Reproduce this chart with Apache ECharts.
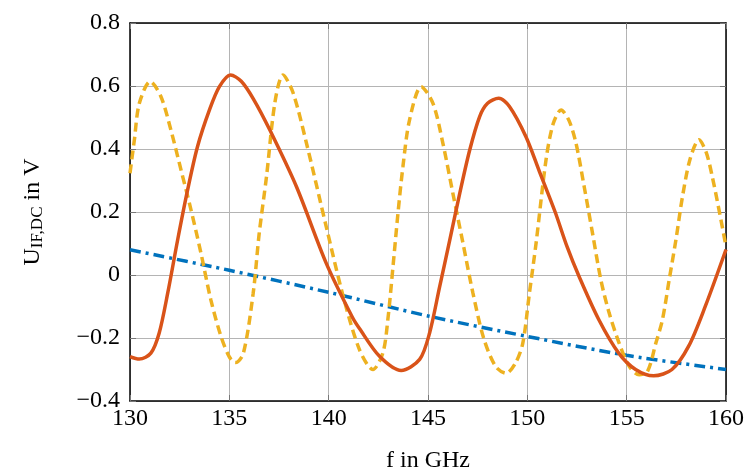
<!DOCTYPE html>
<html>
<head>
<meta charset="utf-8">
<script src="https://cdn.jsdelivr.net/npm/echarts@6/dist/echarts.min.js"></script>
<style>
  html, body { margin: 0; padding: 0; background: #fff; }
  #chart { width: 752px; height: 473px; }
</style>
</head>
<body>
<div id="chart"></div>
<script>
// [f in GHz, U in V]
const solidCurve = [
  [130, -0.259], [130.47, -0.267], [131.05, -0.248], [131.47, -0.184], [131.9, -0.057],
  [132.4, 0.112], [132.9, 0.27], [133.4, 0.408], [134.0, 0.524], [134.5, 0.598],
  [135.06, 0.635], [135.6, 0.615], [136.2, 0.56], [137.04, 0.46], [138.38, 0.28],
  [139.88, 0.037], [141.2, -0.135], [141.55, -0.17], [142.56, -0.258], [143.65, -0.303],
  [144.58, -0.268], [145.08, -0.184], [145.59, -0.036], [146.1, 0.112], [146.6, 0.26],
  [147.1, 0.397], [147.6, 0.503], [148.0, 0.545], [148.56, 0.561], [149.1, 0.535],
  [149.93, 0.439], [150.6, 0.33], [151.4, 0.2], [152.0, 0.09], [152.6, -0.004],
  [153.6, -0.142], [154.6, -0.248], [155.45, -0.3], [156.36, -0.32], [157.28, -0.3],
  [158.12, -0.226], [158.96, -0.099], [160, 0.081]
];
const dashedCurve = [
  [130, 0.323], [130.22, 0.429], [130.47, 0.545], [131.02, 0.614], [131.56, 0.566],
  [132.06, 0.46], [132.57, 0.333], [133.07, 0.207], [133.57, 0.07], [134.07, -0.079],
  [134.58, -0.195], [135.0, -0.26], [135.3, -0.278], [135.7, -0.25], [136.2, -0.058],
  [136.5, 0.13], [136.87, 0.312], [137.3, 0.55], [137.7, 0.635], [138.2, 0.58],
  [138.88, 0.419], [139.88, 0.153], [140.7, -0.06], [141.55, -0.237], [142.23, -0.3],
  [142.73, -0.247], [142.98, -0.141], [143.24, 0.028], [143.49, 0.197], [143.74, 0.345],
  [144.07, 0.492], [144.66, 0.598], [145.25, 0.545], [145.75, 0.418], [146.25, 0.26],
  [146.76, 0.101], [147.26, -0.057], [147.8, -0.2], [148.4, -0.29], [148.93, -0.312],
  [149.4, -0.28], [149.77, -0.217], [150.1, -0.06], [150.44, 0.101], [150.94, 0.365],
  [151.3, 0.48], [151.7, 0.524], [152.1, 0.49], [152.45, 0.418], [152.86, 0.281],
  [153.28, 0.133], [153.7, -0.015], [154.12, -0.121], [154.62, -0.216], [155.13, -0.29],
  [155.63, -0.317], [156.05, -0.306], [156.47, -0.216], [156.8, -0.142], [157.14, -0.015],
  [157.48, 0.112], [157.81, 0.249], [158.2, 0.37], [158.64, 0.429], [159.0, 0.39],
  [159.31, 0.312], [159.7, 0.19], [160, 0.09]
];
const dashDotLine = [
  [130, 0.08], [135, 0.015], [140, -0.055], [145, -0.13], [150, -0.195],
  [155, -0.255], [160, -0.30]
];

const font = '"Liberation Serif", "DejaVu Serif", serif';
const gridColor = '#b4b4b4';

let chart = echarts.init(document.getElementById('chart'));

const fmtY = function (v) {
  const s = Math.abs(v) < 1e-9 ? '0' : v.toFixed(1);
  return s.replace('-', '\u2212');
};

const frameAxis = {
  axisLine: { show: true, onZero: false, lineStyle: { color: '#000', width: 1.5 } },
  axisTick: { inside: true, length: 6, lineStyle: { color: '#777' } }
};

const chartOptions = {
  animation: false,
  grid: { left: 130, right: 26, top: 23, bottom: 72, outerBoundsMode: 'none' },
  xAxis: [
    Object.assign({
      type: 'value', min: 130, max: 160, interval: 5,
      name: 'f in GHz', nameLocation: 'middle', nameGap: 48,
      nameTextStyle: { fontFamily: font, fontSize: 24, color: '#000' },
      axisLabel: { fontFamily: font, fontSize: 24, color: '#000', margin: 6 },
      splitLine: { show: true, lineStyle: { color: gridColor, width: 1 } }
    }, frameAxis),
    Object.assign({
      type: 'value', min: 130, max: 160, interval: 5, position: 'top',
      axisLabel: { show: false },
      splitLine: { show: false }
    }, frameAxis)
  ],
  yAxis: [
    Object.assign({
      type: 'value', min: -0.4, max: 0.8, interval: 0.2,
      name: '{u|U}{s|IF,DC}{u| in V}', nameLocation: 'middle', nameGap: 84, nameRotate: 90,
      nameTextStyle: {
        rich: {
          u: { fontFamily: font, fontSize: 24, color: '#000' },
          s: { fontFamily: font, fontSize: 17, color: '#000', padding: [10, 0, 0, 0] }
        }
      },
      axisLabel: { fontFamily: font, fontSize: 24, color: '#000', margin: 10, formatter: fmtY },
      splitLine: { show: true, lineStyle: { color: gridColor, width: 1 } }
    }, frameAxis),
    Object.assign({
      type: 'value', min: -0.4, max: 0.8, interval: 0.2, position: 'right',
      axisLabel: { show: false },
      splitLine: { show: false }
    }, frameAxis)
  ],
  series: [
    {
      type: 'line', data: dashDotLine, showSymbol: false, smooth: 0.3,
      lineStyle: { color: '#0072BD', width: 3.5, type: [11, 5, 3, 5] }
    },
    {
      type: 'line', data: dashedCurve, showSymbol: false, smooth: 0.3,
      lineStyle: { color: '#EDB120', width: 3.5, type: [9, 5] }
    },
    {
      type: 'line', data: solidCurve, showSymbol: false, smooth: 0.3,
      lineStyle: { color: '#D95319', width: 3.5 }
    }
  ]
};
chart.setOption(chartOptions);
</script>
</body>
</html>
